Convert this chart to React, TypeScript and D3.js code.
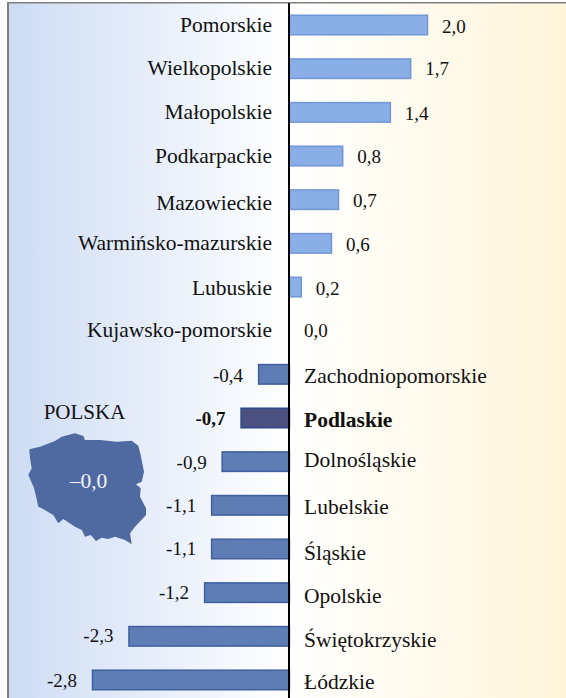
import React from "react";
import * as d3 from "d3";

const W = 566, H = 698;
const regions = ["Pomorskie","Wielkopolskie","Małopolskie","Podkarpackie","Mazowieckie","Warmińsko-mazurskie","Lubuskie","Kujawsko-pomorskie","Zachodniopomorskie","Podlaskie","Dolnośląskie","Lubelskie","Śląskie","Opolskie","Świętokrzyskie","Łódzkie"];
const values = [1.97,1.73,1.44,0.76,0.7,0.6,0.17,0,-0.44,-0.69,-0.96,-1.11,-1.11,-1.21,-2.29,-2.81];
const valueLabels = ["2,0","1,7","1,4","0,8","0,7","0,6","0,2","0,0","-0,4","-0,7","-0,9","-1,1","-1,1","-1,2","-2,3","-2,8"];
const highlighted = "Podlaskie";
const nameNudge = [1,0,1,1,4,1,2,0,3,3,-1,3,5,4,5,3];
const labelNudge = [2,0,2,1,1,2,2,0,2,1,1,1,0,0,0,1];
const polandPath = "M29.3,449.3 L40,446.7 L55,441 L61.7,436.7 L75,433.3 L83.3,436 L85,440 L100,440 L116.7,441.7 L131.7,440.7 L138.3,445.7 L140.7,455 L144,471.7 L141.7,481.7 L136,484.3 L140.7,488.3 L140,496.7 L146,508.3 L146,515 L135,526.7 L130,533.3 L131.7,544.3 L125,540 L115,536.7 L108.3,539 L101.7,537.7 L96,541 L90.7,535 L85,536.7 L81.7,530 L75,526.7 L63.3,519 L58.3,523.3 L53.3,515 L41.7,508.3 L38.3,506.7 L35.7,495 L34,488 L28.3,475 L31.7,468.3 L30,458 Z";
const font = "'Liberation Serif','Times New Roman',serif";

export default function App() {
  const x = d3.scaleLinear().domain([-2.81, 1.97]).range([92, 427]);
  const y = d3.scaleBand<string>().domain(regions).range([3.2, 701.8]).paddingInner(0.53).paddingOuter(0.265);
  const zero = x(0);
  const bh = y.bandwidth();
  return (
    <svg width={W} height={H} viewBox={`0 0 ${W} ${H}`} style={{ position: "absolute", left: 0, top: 0 }} fontFamily={font} fill="#111">
      <defs>
        <linearGradient id="bg" x1="0" x2="1" y1="0" y2="0">
          <stop offset="0" stopColor="#cddcf4" />
          <stop offset="0.5" stopColor="#ffffff" />
          <stop offset="1" stopColor="#fff5da" />
        </linearGradient>
      </defs>
      <rect x={0} y={0} width={W} height={H} fill="#fff" />
      <rect x={8} y={3} width={W - 8} height={H - 3} fill="url(#bg)" />
      <rect x={7} y={2} width={2} height={H - 2} fill="#808080" />
      <rect x={7} y={2} width={W - 7} height={1.5} fill="#808080" />
      {regions.map((n, i) => {
        const v = values[i];
        const top = y(n)!;
        const cy = top + bh / 2;
        const hi = n === highlighted;
        const neg = v < 0;
        const bx = Math.min(x(v), zero);
        const bw = Math.abs(x(v) - zero);
        return (
          <g key={n}>
            {v !== 0 && (
              <rect x={bx + 0.5} y={top + 0.5} width={bw} height={bh - 1}
                fill={hi ? "#4a5180" : neg ? "#5f7db5" : "#8aaee6"}
                stroke={hi ? "#2d4a8a" : neg ? "#3f5f9e" : "#7096d6"} strokeWidth={1.5} />
            )}
            <text x={neg ? x(v) - 15 : (v === 0 ? zero + 15 : x(v) + 15)} y={cy + 6 + labelNudge[i]}
              textAnchor={neg ? "end" : "start"} fontSize={19} fontWeight={hi ? "bold" : "normal"}>{valueLabels[i]}</text>
            <text x={neg ? 304 : 272} y={cy + 6 + nameNudge[i]} textAnchor={neg ? "start" : "end"} fontSize={21.5} fontWeight={hi ? "bold" : "normal"}>{n}</text>
          </g>
        );
      })}
      <line x1={289} x2={289} y1={3} y2={H} stroke="#000" strokeWidth={2} />
      <text x={84.5} y={419} textAnchor="middle" fontSize={21}>POLSKA</text>
      <path d={polandPath} fill="#4f6aa0" />
      <text x={88.5} y={488} textAnchor="middle" fontSize={21.5} fill="#f2f4fa">–0,0</text>
    </svg>
  );
}
